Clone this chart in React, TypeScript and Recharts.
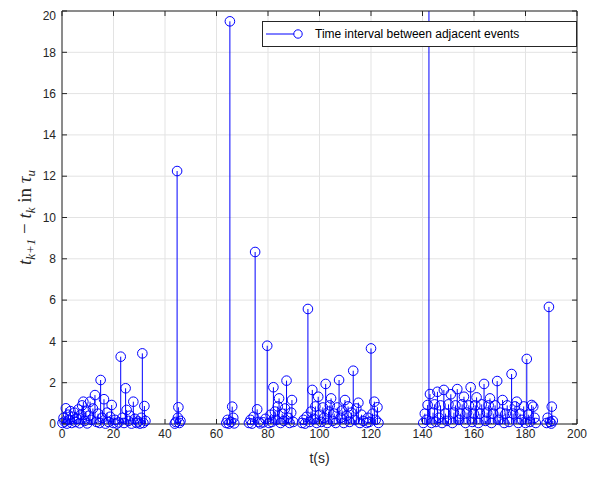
import { ComposedChart, Bar, Scatter, XAxis, YAxis, CartesianGrid } from 'recharts';

// [event time t (s), interval to next event (tau_u)]
const burstA: [number, number][] = [
  [0.2, 0.05], [0.6, 0.3], [1.0, 0.12], [1.5, 0.76], [1.9, 0.02], [2.4, 0.45], [2.9, 0.2], [3.3, 0.62],
  [3.8, 0.05], [4.3, 0.35], [4.8, 0.55], [5.3, 0.1], [5.8, 0.25], [6.3, 0.7], [6.8, 0.04], [7.3, 0.45],
  [7.8, 0.9], [8.3, 1.08], [8.8, 0.15], [9.3, 0.6], [9.8, 0.03], [10.4, 0.4], [10.9, 1.08], [11.4, 0.2],
  [12.0, 0.75], [12.8, 1.4], [13.4, 0.1], [14.0, 0.5], [14.6, 0.05], [15.0, 2.13], [15.6, 0.3], [16.3, 1.2],
  [16.9, 0.02], [17.5, 0.55], [18.1, 0.1], [18.7, 0.35], [19.3, 0.92], [19.9, 0.05], [20.6, 0.2], [21.3, 0.02],
  [22.0, 0.08], [22.8, 3.26], [23.4, 0.3], [24.1, 0.05], [24.7, 1.73], [25.1, 0.68], [25.8, 0.15], [26.4, 0.4],
  [27.0, 0.02], [27.7, 1.08], [28.3, 0.25], [29.0, 0.05], [29.6, 0.12], [30.3, 0.02], [30.8, 0.3], [31.2, 3.42],
  [31.6, 0.05], [32.0, 0.87], [32.4, 0.15],
];
const burstB: [number, number][] = [
  [43.8, 0.02], [44.2, 0.1], [44.7, 12.25], [45.0, 0.3], [45.2, 0.81], [45.6, 0.05], [46.0, 0.15],
];
const burstC: [number, number][] = [
  [63.8, 0.05], [64.3, 0.2], [64.8, 0.02], [65.2, 19.5], [65.6, 0.1], [66.1, 0.84], [66.5, 0.3], [66.9, 0.03],
];
const burstD: [number, number][] = [
  [72.6, 0.05], [73.2, 0.2], [73.8, 0.02], [74.4, 0.35], [75.0, 8.33], [75.8, 0.71], [76.4, 0.1], [77.0, 0.03],
  [78.2, 0.08], [79.0, 0.25], [79.7, 3.79], [80.4, 0.05], [81.0, 0.45], [81.5, 0.1], [82.1, 1.78], [82.7, 0.6],
  [83.2, 0.2], [83.8, 0.85], [84.3, 1.24], [84.9, 0.05], [85.5, 0.5], [86.1, 0.15], [86.6, 0.75], [87.2, 2.1],
  [87.8, 0.3], [88.4, 0.05], [89.0, 0.55], [89.3, 1.16], [89.8, 0.1],
];
const burstE: [number, number][] = [
  [93.2, 0.05], [93.8, 0.2], [94.4, 0.02], [95.0, 0.35], [95.5, 5.57], [96.2, 0.1], [96.7, 0.6], [97.2, 1.65],
  [97.8, 0.25], [98.4, 0.85], [98.9, 0.05], [99.5, 1.32], [100.1, 0.45], [100.7, 0.1], [101.3, 0.8], [101.8, 0.3],
  [102.4, 1.94], [103.0, 0.05], [103.5, 0.6], [104.0, 0.9], [104.5, 1.24], [105.1, 0.15], [105.7, 0.5], [106.3, 0.05],
  [106.9, 0.8], [107.6, 2.13], [108.2, 0.3], [108.8, 0.65], [109.4, 0.05], [109.9, 1.16], [110.5, 0.4], [111.1, 0.85],
  [111.7, 0.1], [112.4, 0.55], [113.1, 2.58], [113.7, 0.2], [114.3, 0.75], [115.1, 1.03], [115.7, 0.05], [116.3, 0.45],
  [117.0, 0.15], [118.3, 0.05], [118.8, 0.3], [119.3, 0.1], [120.0, 3.66], [120.6, 0.5], [121.3, 1.08], [121.8, 0.2],
  [122.5, 0.81], [122.9, 0.05],
];
const burstF: [number, number][] = [
  [140.3, 0.05], [140.9, 0.5], [141.5, 0.2], [142.0, 0.92], [142.5, 22], [142.9, 1.45], [143.5, 0.05], [144.1, 0.55],
  [144.7, 0.95], [145.2, 0.1], [145.8, 1.56], [146.4, 0.3], [147.0, 0.9], [147.6, 0.05], [148.3, 1.65], [148.9, 0.5],
  [149.5, 0.15], [150.1, 0.95], [151.0, 1.44], [151.6, 0.05], [152.2, 0.55], [152.8, 0.9], [153.5, 1.69], [154.1, 0.2],
  [154.7, 0.5], [155.4, 0.95], [156.1, 1.32], [156.7, 0.05], [157.3, 0.55], [158.0, 0.9], [158.7, 1.78], [159.3, 0.1],
  [159.9, 0.5], [160.5, 0.9], [161.0, 1.29], [161.7, 0.05], [162.3, 0.5], [163.0, 0.95], [163.9, 1.94], [164.5, 0.15],
  [165.1, 0.55], [165.7, 0.9], [166.2, 1.24], [166.8, 0.05], [167.5, 0.5], [168.2, 0.9], [169.0, 2.08], [169.6, 0.2],
  [170.2, 0.55], [171.1, 1.16], [171.7, 0.05], [172.3, 0.5], [172.9, 0.9], [173.6, 0.1], [174.6, 2.42], [175.2, 0.5],
  [175.9, 0.85], [176.6, 1.08], [177.2, 0.05], [177.9, 0.5], [178.6, 0.2], [179.3, 0.85], [180.0, 0.05], [180.5, 3.15],
  [181.1, 0.45], [181.7, 0.1], [182.4, 0.92], [183.0, 0.84], [183.5, 0.3], [184.0, 0.05],
];
const burstG: [number, number][] = [
  [188.2, 0.05], [188.6, 0.3], [189.1, 5.67], [189.5, 0.1], [190.0, 0.02], [190.2, 0.84], [190.6, 0.15],
];

const xTicks = [0, 20, 40, 60, 80, 100, 120, 140, 160, 180, 200];
const yTicks = [0, 2, 4, 6, 8, 10, 12, 14, 16, 18, 20];
const Y_MAX = 20;
const legendLabel = 'Time interval between adjacent events';

const events = [...burstA, ...burstB, ...burstC, ...burstD, ...burstE, ...burstF, ...burstG].map(([t, dt]) => ({ t, dt }));
// markers outside the axes are not drawn (as in MATLAB)
const markers = events.filter((e) => e.dt <= Y_MAX);

const BLUE = '#0000ff';
const AXIS = '#262626';
const SANS = 'Liberation Sans, Arial, sans-serif';
const tickFont = { fill: AXIS, fontSize: 12, fontFamily: SANS };

const Stem = (p: any) => {
  const cx = p.x + p.width / 2;
  return <line x1={cx} x2={cx} y1={p.y} y2={p.y + p.height} stroke={BLUE} strokeWidth={1} />;
};

const Marker = (p: any) => <circle cx={p.cx} cy={p.cy} r={4.8} fill="none" stroke={BLUE} strokeWidth={1} />;

const YLabel = (p: any) => {
  const vb = p.viewBox;
  const cx = vb.x + 23;
  const cy = vb.y + vb.height / 2;
  const sub = { fontSize: 13, fontStyle: 'italic' as const };
  return (
    <text
      x={cx}
      y={cy}
      transform={`rotate(-90, ${cx}, ${cy})`}
      textAnchor="middle"
      fontFamily="Liberation Serif, Times New Roman, serif"
      fontSize={19}
      fill={AXIS}
    >
      <tspan fontStyle="italic">t</tspan>
      <tspan {...sub} dy={4}>k+1</tspan>
      <tspan dy={-4}> − </tspan>
      <tspan fontStyle="italic">t</tspan>
      <tspan {...sub} dy={4}>k</tspan>
      <tspan dy={-4}> in </tspan>
      <tspan fontStyle="italic">τ</tspan>
      <tspan {...sub} dy={4}>u</tspan>
    </text>
  );
};

const LegendBox = () => (
  <div
    style={{
      position: 'absolute',
      left: 254,
      top: 13,
      width: 313,
      height: 24,
      border: `1px solid ${AXIS}`,
      background: '#fff',
      display: 'flex',
      alignItems: 'center',
      fontFamily: SANS,
      fontSize: 12,
      color: '#000',
    }}
  >
    <svg width={52} height={24}>
      <line x1={3} x2={35} y1={12} y2={12} stroke={BLUE} />
      <circle cx={35} cy={12} r={4.2} fill="#fff" stroke={BLUE} />
    </svg>
    <span>{legendLabel}</span>
  </div>
);

export default function App() {
  return (
    <div style={{ position: 'relative', width: 594, height: 471 }}>
      <ComposedChart width={594} height={471} data={events} margin={{ top: 2, right: 24, bottom: 10, left: 0 }}>
        <CartesianGrid xAxisId="bottom" yAxisId="left" stroke="#e3e3e3" />
        <XAxis
          xAxisId="bottom"
          type="number"
          dataKey="t"
          domain={[0, 200]}
          ticks={xTicks}
          allowDataOverflow
          stroke={AXIS}
          tickSize={-5}
          tickMargin={10}
          tick={tickFont}
          height={45}
          label={{ value: 't(s)', position: 'insideBottom', offset: 6, fill: AXIS, fontSize: 14, fontFamily: SANS }}
        />
        <XAxis
          xAxisId="top"
          orientation="top"
          type="number"
          dataKey="t"
          domain={[0, 200]}
          ticks={xTicks}
          stroke={AXIS}
          tickSize={-5}
          tickFormatter={() => ''}
          height={1}
        />
        <YAxis
          yAxisId="left"
          type="number"
          domain={[0, Y_MAX]}
          ticks={yTicks}
          allowDataOverflow
          stroke={AXIS}
          tickSize={-5}
          tickMargin={11}
          tick={tickFont}
          width={54}
          label={<YLabel />}
        />
        <YAxis
          yAxisId="right"
          orientation="right"
          type="number"
          domain={[0, Y_MAX]}
          ticks={yTicks}
          stroke={AXIS}
          tickSize={-5}
          tickFormatter={() => ''}
          width={1}
        />
        <Bar xAxisId="bottom" yAxisId="left" dataKey="dt" shape={<Stem />} isAnimationActive={false} />
        <Scatter xAxisId="top" yAxisId="right" data={markers} dataKey="dt" shape={<Marker />} isAnimationActive={false} />
      </ComposedChart>
      <LegendBox />
    </div>
  );
}
